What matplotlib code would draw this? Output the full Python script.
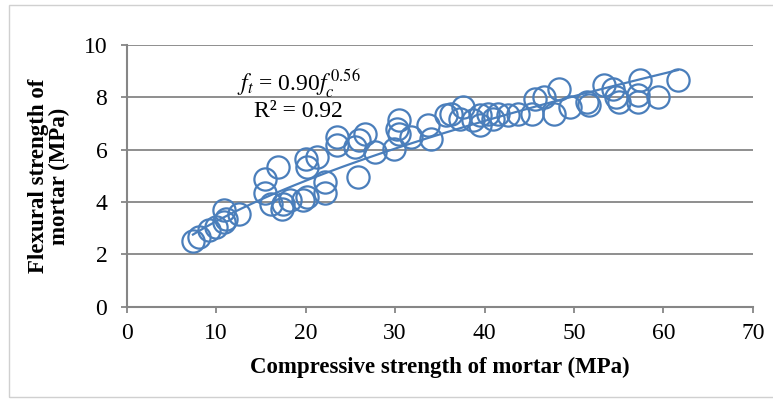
import matplotlib
matplotlib.use("Agg")
import matplotlib.pyplot as plt
import numpy as np
from matplotlib.patches import Rectangle

# Data (compressive strength, flexural strength) in MPa
compressive = [7.4, 8.1, 9.2, 10.0, 10.9, 11.1, 10.9, 12.5, 15.5, 15.5, 16.1, 16.9,
               17.5, 17.4, 18.3, 19.7, 20.0, 20.2, 20.2, 21.3, 22.2, 22.2, 23.5, 23.5,
               25.5, 25.8, 26.0, 26.6, 27.7, 29.9, 30.2, 30.4, 30.4, 31.8, 33.7, 34.0,
               35.7, 36.2, 37.3, 37.6, 38.7, 39.5, 39.5, 40.4, 40.9, 41.5, 42.6, 43.7,
               45.6, 45.3, 46.7, 47.8, 48.3, 49.5, 51.4, 51.7, 53.3, 54.4, 54.7, 55.0,
               57.2, 57.2, 57.4, 59.4, 61.6]
flexural = [2.52, 2.65, 2.93, 3.05, 3.71, 3.37, 3.24, 3.56, 4.90, 4.33, 3.94, 5.34,
            3.94, 3.75, 4.07, 4.07, 5.66, 5.34, 4.20, 5.73, 4.77, 4.33, 6.49, 6.17,
            6.10, 4.96, 6.36, 6.62, 5.92, 6.04, 6.81, 7.12, 6.62, 6.49, 6.93, 6.42,
            7.32, 7.38, 7.19, 7.63, 7.12, 7.32, 6.93, 7.38, 7.19, 7.38, 7.32, 7.38,
            7.95, 7.38, 8.02, 7.38, 8.33, 7.63, 7.82, 7.70, 8.46, 8.33, 8.02, 7.82,
            8.08, 7.82, 8.65, 8.02, 8.68]
fit_coef = 0.90
fit_exp = 0.56
x_ticks = [0, 10, 20, 30, 40, 50, 60, 70]
y_ticks = [0, 2, 4, 6, 8, 10]

plt.rcParams['font.family'] = ['Liberation Serif', 'DejaVu Serif']
plt.rcParams['mathtext.fontset'] = 'stix'

fig = plt.figure(figsize=(7.73, 3.99), dpi=100)
ax = fig.add_axes([0.164, 0.231, 0.810, 0.656])

blue = '#4A7EBB'
gray = '#868686'

ax.plot(compressive, flexural, linestyle='none', marker='o', markersize=16,
        markerfacecolor='none', markeredgecolor=blue, markeredgewidth=1.6, zorder=3)

xs = np.linspace(min(compressive), max(compressive), 200)
ax.plot(xs, fit_coef * xs ** fit_exp, color=blue, linewidth=1.6, zorder=3)

ax.set_xlim(0, 70)
ax.set_ylim(0, 10)
ax.set_xticks(x_ticks)
ax.set_yticks(y_ticks)
ax.grid(axis='y', color=gray, linewidth=1.3)
ax.set_axisbelow(True)
for s in ['top', 'right']:
    ax.spines[s].set_visible(False)
for s in ['left', 'bottom']:
    ax.spines[s].set_color(gray)
    ax.spines[s].set_linewidth(1.5)
ax.tick_params(axis='both', colors=gray, labelcolor='black', labelsize=17,
               direction='out', length=4, width=1.3)
ax.tick_params(axis='x', pad=8)
ax.tick_params(axis='y', pad=10)

ax.set_xlabel('Compressive strength of mortar (MPa)', fontsize=16.5, fontweight='bold',
              labelpad=9)
ax.set_ylabel('Flexural strength of\nmortar (MPa)', fontsize=16.5, fontweight='bold',
              labelpad=10, linespacing=0.95)

ax.text(19.2, 8.55, r'$f_t$ = 0.90$f_c^{\,0.56}$', fontsize=17, ha='center', va='center')
ax.text(19.2, 7.45, 'R² = 0.92', fontsize=17, ha='center', va='center')

fig.patches.append(Rectangle((0.011, 0.006), 1.2, 0.982, transform=fig.transFigure,
                             fill=False, edgecolor='#D0D0D0', linewidth=1.0))

fig.savefig('out.png', dpi=100)
